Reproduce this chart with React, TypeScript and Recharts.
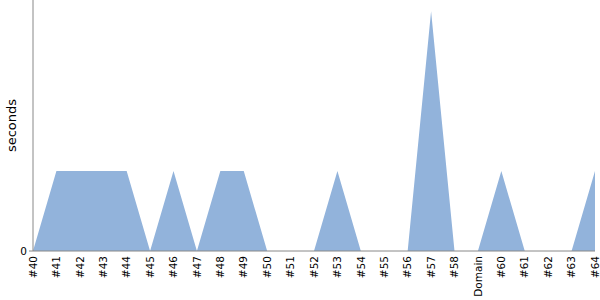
import React from 'react';
import { AreaChart, Area, XAxis, YAxis } from 'recharts';

const categories = ['#40','#41','#42','#43','#44','#45','#46','#47','#48','#49','#50','#51','#52','#53','#54','#55','#56','#57','#58','Domain','#60','#61','#62','#63','#64'];
const seconds = [0,1,1,1,1,0,1,0,1,1,0,0,0,1,0,0,0,3,0,0,1,0,0,0,1];
const yTicks = [0];

const data = categories.map((c, i) => ({ name: c, seconds: seconds[i] }));

const XTick = (props: any) => {
  const { x, y, payload } = props;
  return (
    <text
      x={x}
      y={y}
      dy="0.35em"
      transform={`rotate(-90, ${x}, ${y})`}
      textAnchor="end"
      fontSize={10.5}
      fontFamily="'DejaVu Sans', sans-serif"
      fill="#000"
    >
      {payload.value}
    </text>
  );
};

export default function App() {
  return (
    <div style={{ position: 'absolute', left: 0, top: 0 }}>
      <AreaChart width={600} height={300} data={data} margin={{ top: 0, right: 5, left: 0, bottom: 0 }}>
        <XAxis
          dataKey="name"
          interval={0}
          height={49}
          tick={<XTick />}
          tickSize={0}
          tickMargin={5}
          tickLine={false}
          axisLine={{ stroke: '#888' }}
        />
        <YAxis
          width={33}
          domain={[0, 3.14]}
          ticks={yTicks}
          tickSize={4}
          tick={{ fontSize: 10.5, fontFamily: "'DejaVu Sans', sans-serif", fill: '#000' }}
          tickLine={{ stroke: '#888' }}
          axisLine={{ stroke: '#888' }}
          label={{ value: 'seconds', angle: -90, position: 'insideLeft', offset: 11, style: { fontSize: 13, fontFamily: "'DejaVu Sans', sans-serif", fill: '#000', textAnchor: 'middle' } }}
        />
        <Area
          type="linear"
          dataKey="seconds"
          stroke="none"
          fill="#92b3db"
          fillOpacity={1}
          isAnimationActive={false}
        />
      </AreaChart>
    </div>
  );
}
